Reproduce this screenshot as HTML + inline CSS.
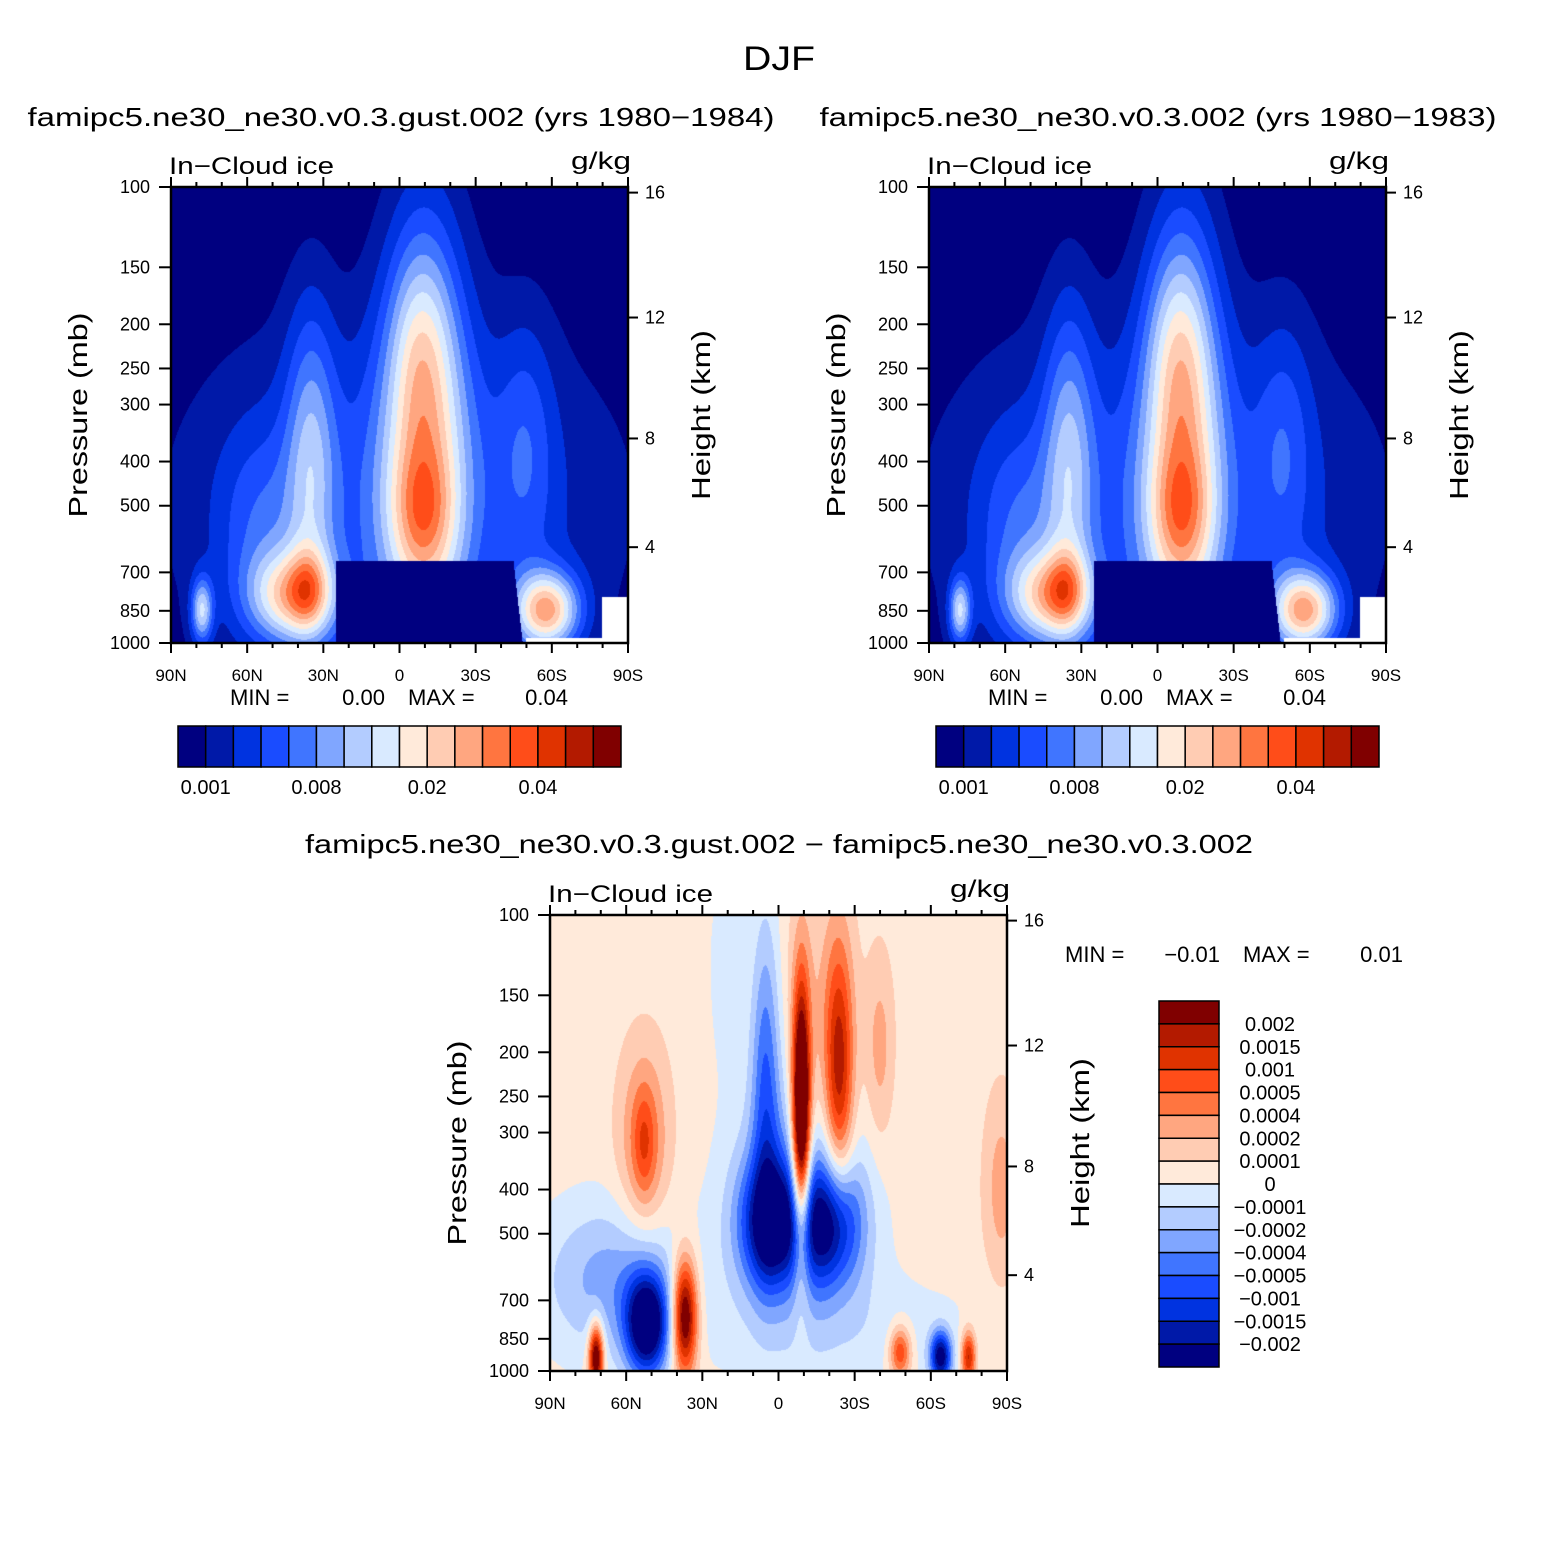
<!DOCTYPE html>
<html><head><meta charset="utf-8">
<style>
html,body{margin:0;padding:0;background:#fff;}
#wrap{position:relative;width:1558px;height:1558px;overflow:hidden;font-family:"Liberation Sans",sans-serif;}
canvas{position:absolute;}
svg{position:absolute;left:0;top:0;}
</style></head>
<body>
<div id="wrap">
<canvas id="c1" width="457" height="456" style="left:171px;top:187px"></canvas>
<canvas id="c2" width="457" height="456" style="left:929px;top:187px"></canvas>
<canvas id="c3" width="457" height="456" style="left:550px;top:915px"></canvas>
<svg id="ov" width="1558" height="1558" font-family="Liberation Sans, sans-serif"></svg>
</div>
<script>
// ---- data ----
const colors=["#000080","#0019a8","#0033e0","#1a4cff","#4075ff","#80a6ff","#b3ccff","#d9eaff","#ffeada","#ffccb3","#ffa680","#ff7540","#ff4d19","#e03300","#b31a00","#800000"];
const topLabels=["0.001","0.008","0.02","0.04"];
const topLabelIdx=[1,5,9,13];
const diffLabels=["0.002","0.0015","0.001","0.0005","0.0004","0.0002","0.0001","0","\u22120.0001","\u22120.0002","\u22120.0004","\u22120.0005","\u22120.001","\u22120.0015","\u22120.002"];
const pressTicks=[100,150,200,250,300,400,500,700,850,1000];
const heightTicks=[16,12,8,4];
const latTicks=[90,60,30,0,-30,-60,-90];
const latNames=["90N","60N","30N","0","30S","60S","90S"];
// blobs: [lat, z(log-p fraction), sigmaLat, sigmaZ, amplitude in contour-level units]
const blobsLeft=[[0,0.7,60,0.3,3.3],[-10,0.55,12,0.35,7],[-8,0.35,8,0.15,2],[-9,0.72,9,0.1,3],
 [42,0.9,12,0.07,7],[36,0.88,5,0.06,2.5],[35,0.6,7,0.25,4],[55,0.75,12,0.15,2],[78,0.93,3,0.05,6],[-58,0.93,9,0.06,9],[-50,0.55,8,0.2,2]];
const blobsRight=[[0,0.7,60,0.3,3.3],[-10,0.55,11,0.35,7],[-8,0.35,8,0.15,2],[-9,0.72,9,0.1,3],
 [42,0.9,12,0.07,7],[36,0.88,5,0.06,2.5],[35,0.6,7,0.25,4],[55,0.75,12,0.15,2],[78,0.93,3,0.05,6],[-58,0.93,9,0.06,9],[-50,0.55,8,0.2,2]];
const blobsDiff=[[3,0.68,9,0.1,-7],[-20,0.68,9,0.1,-7],[-8,0.6,18,0.2,-3],[5,0.35,4,0.25,-4],
 [-9,0.45,2.5,0.2,12],[-24,0.35,4,0.2,6],[-15,0.3,10,0.25,1.5],[53,0.5,7,0.15,3],[53,0.5,3,0.08,2],
 [37,0.88,3.5,0.09,9],[52,0.9,6,0.08,-9],[65,0.8,20,0.12,-3],[72,0.97,2,0.05,9],[-30,0.92,40,0.1,-1],
 [-48,0.96,3,0.04,5],[-64,0.97,3,0.04,-8],[-75,0.97,2,0.04,6],[-40,0.3,4,0.15,2],[-88,0.6,5,0.15,2],[20,0.1,5,0.15,-1.2]];

function evalF(bl,base,lat,z){let v=base;for(const b of bl){const a=(lat-b[0])/b[2],c=(z-b[1])/b[3];v+=b[4]*Math.exp(-0.5*(a*a+c*c));}return v;}
function hex(h){return [parseInt(h.substr(1,2),16),parseInt(h.substr(3,2),16),parseInt(h.substr(5,2),16)];}
const rgb=colors.map(hex);
function paint(id,bl,base,isTop){
  const cv=document.getElementById(id),ctx=cv.getContext('2d'),W=cv.width,H=cv.height;
  const img=ctx.createImageData(W,H);
  for(let y=0;y<H;y++){const z=y/(H-1);for(let x=0;x<W;x++){const lat=90-180*x/(W-1);
    let v=evalF(bl,base,lat,z);let white=false;
    if(isTop){ if(lat<25&&lat>-45-(z-0.82)*20&&z>0.82)v=0; if(lat<-80&&z>0.9)white=true; if(lat<-50&&lat>-80&&z>0.99)white=true;}
    let k=Math.max(0,Math.min(15,Math.floor(v)));const i=(y*W+x)*4;const c=white?[255,255,255]:rgb[k];
    img.data[i]=c[0];img.data[i+1]=c[1];img.data[i+2]=c[2];img.data[i+3]=255;}}
  ctx.putImageData(img,0,0);
}
paint('c1',blobsLeft,0,true);paint('c2',blobsRight,0,true);paint('c3',blobsDiff,8.5,false);

const NS="http://www.w3.org/2000/svg";const ov=document.getElementById('ov');
function el(t,a,parent){const e=document.createElementNS(NS,t);for(const k in a)e.setAttribute(k,a[k]);(parent||ov).appendChild(e);return e;}
function txt(s,x,y,size,anchor,name,rot,len){const e=el('text',{x:x,y:y,'font-size':size,'text-anchor':anchor||'start',fill:'#000'});
  if(rot)e.setAttribute('transform','rotate(-90 '+x+' '+y+')');
  if(len){e.setAttribute('textLength',len);e.setAttribute('lengthAdjust','spacingAndGlyphs');}
  e.textContent=s;
  
  return e;}
function pz(p){return Math.log10(p/100);}
function hToP(h){h*=1000;if(h<=11000)return 1013.25*Math.pow(1-2.25577e-5*h,5.25588);return 226.32*Math.exp(-(h-11000)/6341.6);}
function panel(ox,oy){
  const W=457,H=456;
  const g=el('g',{});
  
  
  el('rect',{x:ox,y:oy,width:W,height:H,fill:'none',stroke:'#000','stroke-width':2.5},g);
  for(let l=90;l>=-90;l-=10){const x=ox+(90-l)/180*W;const maj=(l%30===0);
    el('line',{x1:x,y1:oy+H,x2:x,y2:oy+H+(maj?10:5),stroke:'#000','stroke-width':2},g);
    el('line',{x1:x,y1:oy,x2:x,y2:oy-(maj?10:5),stroke:'#000','stroke-width':2},g);}
  latTicks.forEach((l,i)=>{txt(latNames[i],ox+(90-l)/180*W,oy+H+38,17,'middle','lat-tick-label');});
  pressTicks.forEach(p=>{const y=oy+pz(p)*H;el('line',{x1:ox,y1:y,x2:ox-12,y2:y,stroke:'#000','stroke-width':2},g);
    txt(String(p),ox-21,y+6,18,'end','pressure-tick-label');});
  heightTicks.forEach(h=>{const y=oy+pz(hToP(h))*H;el('line',{x1:ox+W,y1:y,x2:ox+W+10,y2:y,stroke:'#000','stroke-width':2},g);
    txt(String(h),ox+W+17,y+6,18,'start','height-tick-label');});
  txt('In\u2212Cloud ice',ox-2,oy-13,24,'start','variable-label',false,165);
  txt('g/kg',ox+W+3,oy-18,24,'end','units-label',false,60);
  txt('Pressure (mb)',ox-84,oy+H/2,26,'middle','y-axis-title',true,205);
  txt('Height (km)',ox+W+82,oy+H/2,26,'middle','y2-axis-title',true,170);
}
txt('DJF',779,70,34,'middle','figure-title',false,72);
txt('famipc5.ne30_ne30.v0.3.gust.002 (yrs 1980\u22121984)',401,126,26,'middle','left-panel-title',false,747);
txt('famipc5.ne30_ne30.v0.3.002 (yrs 1980\u22121983)',1158,126,26,'middle','right-panel-title',false,677);
txt('famipc5.ne30_ne30.v0.3.gust.002 \u2212 famipc5.ne30_ne30.v0.3.002',779,853,26,'middle','difference-title',false,948);
panel(171,187);panel(929,187);panel(550,915);
function minmax(x,y,a,b,name){txt('MIN =',x,y,22,'start',name);txt(a,x+155,y,22,'end',name);txt('MAX =',x+178,y,22,'start',name);txt(b,x+338,y,22,'end',name);}
minmax(230,705,'0.00','0.04','minmax-left');minmax(988,705,'0.00','0.04','minmax-right');minmax(1065,962,'\u22120.01','0.01','minmax-diff');
function hbar(x0,y0){const w=(621-178)/16;colors.forEach((c,i)=>{const r=el('rect',{x:x0+i*w,y:y0,width:w,height:41,fill:c,stroke:'#000','stroke-width':1.5});
  });
  topLabels.forEach((s,i)=>txt(s,x0+topLabelIdx[i]*w,y0+68,20,'middle','colorbar-label'));}
hbar(178,726);hbar(936,726);
const vh=(1367-1001)/16;
for(let i=0;i<16;i++){const r=el('rect',{x:1159,y:1001+i*vh,width:60,height:vh,fill:colors[15-i],stroke:'#000','stroke-width':1.5});
  }
diffLabels.forEach((s,i)=>txt(s,1270,1001+(i+1)*vh+7,20,'middle','diff-colorbar-label'));
</script>
</body></html>
